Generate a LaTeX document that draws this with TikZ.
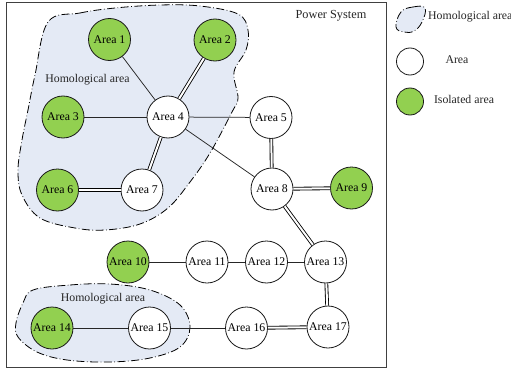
\documentclass[tikz,border=0pt]{standalone}
\usepackage{fontspec}
\setmainfont{Liberation Serif}
\begin{document}
\begin{tikzpicture}[x=1pt,y=-1pt,
  area/.style={circle,draw=black!90,line width=0.8pt,fill=white,minimum size=42pt,inner sep=0pt,font=\fontsize{11.8}{13}\selectfont},
  iso/.style={area,fill=isogreen},
  link/.style={draw=black!85,line width=0.75pt},
  dlink/.style={draw=black,line width=0.85pt,double=white,double distance=2pt},
  homo/.style={fill=homofill,draw=black,line width=0.8pt,dash pattern=on 8pt off 2.5pt on 0.7pt off 2.5pt},
  lbl/.style={font=\fontsize{11.8}{13}\selectfont,text=black!85,inner sep=0pt}]
\definecolor{isogreen}{HTML}{92D050}
\definecolor{homofill}{HTML}{E4EAF5}
\useasboundingbox (0,0) rectangle (511,369);
\fill[white] (0,0) rectangle (511,369);
% frame
\node[draw=black!75,line width=0.8pt,minimum width=380pt,minimum height=365pt,inner sep=0pt,anchor=north west] (frame) at (6,2) {};
\node[lbl,font=\fontsize{12.3}{14}\selectfont] (ps) at (331,16) {Power System};
% homological blobs
\path[homo] plot[smooth cycle,tension=0.6] coordinates {(48,22) (80,13) (115,8) (160,5) (200,6) (238,14) (248,30) (246,50) (234,72) (238,98) (232,112) (210,153) (190,182) (168,208) (140,224) (105,230) (75,228) (40,218) (22,195) (18,170) (22,140) (28,110) (35,75)};
\path[homo] plot[smooth cycle,tension=0.6] coordinates {(33,290) (70,285) (110,284) (150,290) (180,305) (190,327) (180,347) (150,358) (110,362) (67,360) (37,352) (18,337) (16,323) (23,303)};
\node[lbl] (h1) at (87.5,80) {Homological area};
\node[lbl] (h2) at (103,299) {Homological area};
% nodes
\node[iso]  (a1)  at (109.5,39.5) {Area 1};
\node[iso]  (a2)  at (215,40) {Area 2};
\node[iso]  (a3)  at (63,117) {Area 3};
\node[area] (a4)  at (168,117) {Area 4};
\node[area] (a5)  at (271,117.5) {Area 5};
\node[iso]  (a6)  at (57.5,190) {Area 6};
\node[area] (a7)  at (142,190) {Area 7};
\node[area] (a8)  at (272,189) {Area 8};
\node[iso]  (a9)  at (351.5,188) {Area 9};
\node[iso]  (a10) at (128,262) {Area 10};
\node[area] (a11) at (207,262) {Area 11};
\node[area] (a12) at (266.5,262) {Area 12};
\node[area] (a13) at (325.5,262) {Area 13};
\node[iso]  (a14) at (52,328) {Area 14};
\node[area] (a15) at (149.5,328) {Area 15};
\node[area] (a16) at (246.5,328) {Area 16};
\node[area] (a17) at (328,327) {Area 17};
% connectors
\draw[link] (a1) -- (a4);
\draw[dlink] (a2) -- (a4);
\draw[link] (a3) -- (a4);
\draw[dlink] (a4) -- (a7);
\draw[dlink] (a6) -- (a7);
\draw[link] (a4) -- (a5);
\draw[link] (a4) -- (a8);
\draw[dlink] (a5) -- (a8);
\draw[dlink] (a8) -- (a9);
\draw[dlink] (a8) -- (a13);
\draw[link] (a10) -- (a11);
\draw[link] (a11) -- (a12);
\draw[link] (a12) -- (a13);
\draw[dlink] (a13) -- (a17);
\draw[link] (a14) -- (a15);
\draw[link] (a15) -- (a16);
\draw[dlink] (a16) -- (a17);
% legend
\path[homo] plot[smooth cycle,tension=0.7] coordinates {(401,12) (413,7) (425,8) (422,22) (414,31) (404,32) (396,27)};
\node[lbl,anchor=west] (lh) at (428,17) {Homological area};
\node[area,minimum size=27pt] (la) at (410,61.5) {};
\node[lbl] (lat) at (457,60) {Area};
\node[iso,minimum size=27pt] (li) at (410,101.5) {};
\node[lbl] (lit) at (464,99) {Isolated area};
\end{tikzpicture}
\end{document}
